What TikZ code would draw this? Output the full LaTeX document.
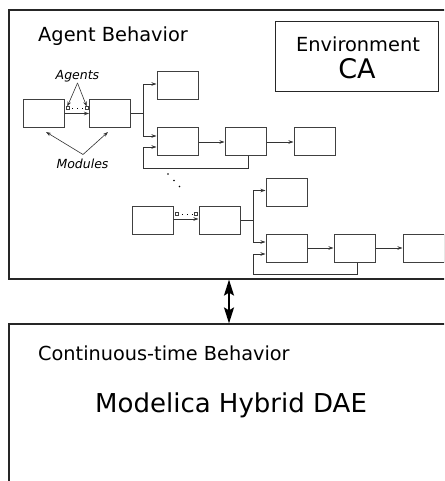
\documentclass[tikz,border=0pt]{standalone}
\usepackage{fontspec}
\setmainfont{DejaVu Sans}
\usetikzlibrary{arrows.meta}
\begin{document}
\begin{tikzpicture}[x=1pt,y=-1pt,
  outer/.style={draw=black!85,line width=1.2pt,inner sep=0pt},
  modbox/.style={draw=black!75,line width=1pt,minimum width=41pt,minimum height=28pt,inner sep=0pt},
  port/.style={draw=black!75,line width=0.6pt,minimum size=3pt,inner sep=0pt},
  conn/.style={draw=black!80,line width=0.8pt},
  arr/.style={conn,-{Stealth[length=5pt,width=3.5pt]}},
  dots/.style={line width=1pt,dash pattern=on 1pt off 4pt},
  lbl/.style={inner sep=0pt,anchor=base},
  bigarrow/.style={line width=1.8pt,{Stealth[length=16pt,width=10pt,inset=3pt]}-{Stealth[length=16pt,width=10pt,inset=3pt]}}
]
\useasboundingbox (0,0) rectangle (444,481);
\clip (0,0) rectangle (444,481);
\fill[white] (0,0) rectangle (444,481);

% outer boxes
\node[outer,minimum width=471pt,minimum height=269pt] (agentbox) at (244.5,144.5) {};
\node[outer,minimum width=471pt,minimum height=200pt] (contbox) at (244.5,424) {};
\coordinate (ax) at (229,0);
\draw[bigarrow] (agentbox.south -| ax) -- (contbox.north -| ax);

% titles
\node[lbl,anchor=base west,font=\fontsize{19.4}{22}\selectfont] (agt) at (38,42) {Agent Behavior};
\node[outer,line width=1pt,minimum width=163pt,minimum height=70pt] (env) at (356.5,57) {};
\node[lbl,font=\fontsize{19.4}{22}\selectfont] (envt) at (358,52) {Environment};
\node[lbl,font=\fontsize{27}{30}\selectfont] (ca) at (357,79) {CA};
\node[lbl,anchor=base west,font=\fontsize{19.3}{22}\selectfont] (ctb) at (38,360) {Continuous-time Behavior};
\node[lbl,anchor=base west,font=\fontsize{26}{29}\selectfont] (mhd) at (95,412) {Modelica Hybrid DAE};

% first chain
\node[modbox] (A1) at (43.5,113.5) {};
\node[modbox] (A2) at (110,113.5) {};
\node[modbox] (B1) at (177.5,86) {};
\node[modbox] (B2) at (177.5,142) {};
\node[modbox] (B3) at (245.5,142) {};
\node[modbox] (B4) at (314.5,142) {};
\node[port] (s1) at (67.3,108.3) {};
\node[port] (s2) at (86.7,108.3) {};
\draw[dots] ([xshift=3pt]s1.east) -- (s2.west);
\draw[arr] (A1.east) -- (A2.west);
\coordinate (j1) at (143.5,113.5);
\draw[conn] (A2.east) -- (j1);
\draw[arr] (j1) |- ([yshift=2pt]B1.west);
\draw[arr] (j1) |- ([yshift=6pt]B2.west);
\draw[arr] (B2.east) -- (B3.west);
\draw[arr] (B3.east) -- (B4.west);
\coordinate (fb1) at (143.5,168);
\draw[arr] ([xshift=2.5pt]B3.south) |- (fb1) |- ([yshift=-5pt]B2.west);

% labels Agents / Modules
\node[lbl,font=\fontsize{12.5}{14}\itshape] (agents) at (77.5,80) {Agents};
\node[lbl,font=\fontsize{12.5}{14}\itshape] (modules) at (82.5,168) {Modules};
\coordinate (ag) at (77.5,83);
\draw[arr,line width=0.6pt] (ag) -- (s1.north);
\draw[arr,line width=0.6pt] (ag) -- (s2.north);
\coordinate (md) at (83,154.5);
\coordinate (m1) at (46,132);
\coordinate (m2) at (108,132);
\draw[arr,line width=0.6pt] (md) -- (m1);
\draw[arr,line width=0.6pt] (md) -- (m2);

% diagonal dots
\fill (168,174) circle (0.9);
\fill (174,180.5) circle (0.9);
\fill (179.5,186.5) circle (0.9);

% second chain
\node[modbox] (C1) at (153,220) {};
\node[modbox] (C2) at (219.5,220) {};
\node[modbox] (D1) at (286.5,192) {};
\node[modbox] (D2) at (286.5,248) {};
\node[modbox] (D3) at (354.5,248) {};
\node[modbox] (D4) at (423.5,248) {};
\node[port] (t1) at (177,214) {};
\node[port] (t2) at (196,214) {};
\draw[dots] ([xshift=3pt]t1.east) -- (t2.west);
\draw[arr] ([yshift=1pt]C1.east) -- ([yshift=1pt]C2.west);
\coordinate (j2) at (253,220);
\draw[conn] (C2.east) -- (j2);
\draw[arr] (j2) |- ([yshift=1.5pt]D1.west);
\draw[arr] (j2) |- ([yshift=6pt]D2.west);
\draw[arr] (D2.east) -- (D3.west);
\draw[arr] (D3.east) -- (D4.west);
\coordinate (fb2) at (253,274);
\draw[arr] ([xshift=2.5pt]D3.south) |- (fb2) |- ([yshift=-6pt]D2.west);
\end{tikzpicture}
\end{document}
